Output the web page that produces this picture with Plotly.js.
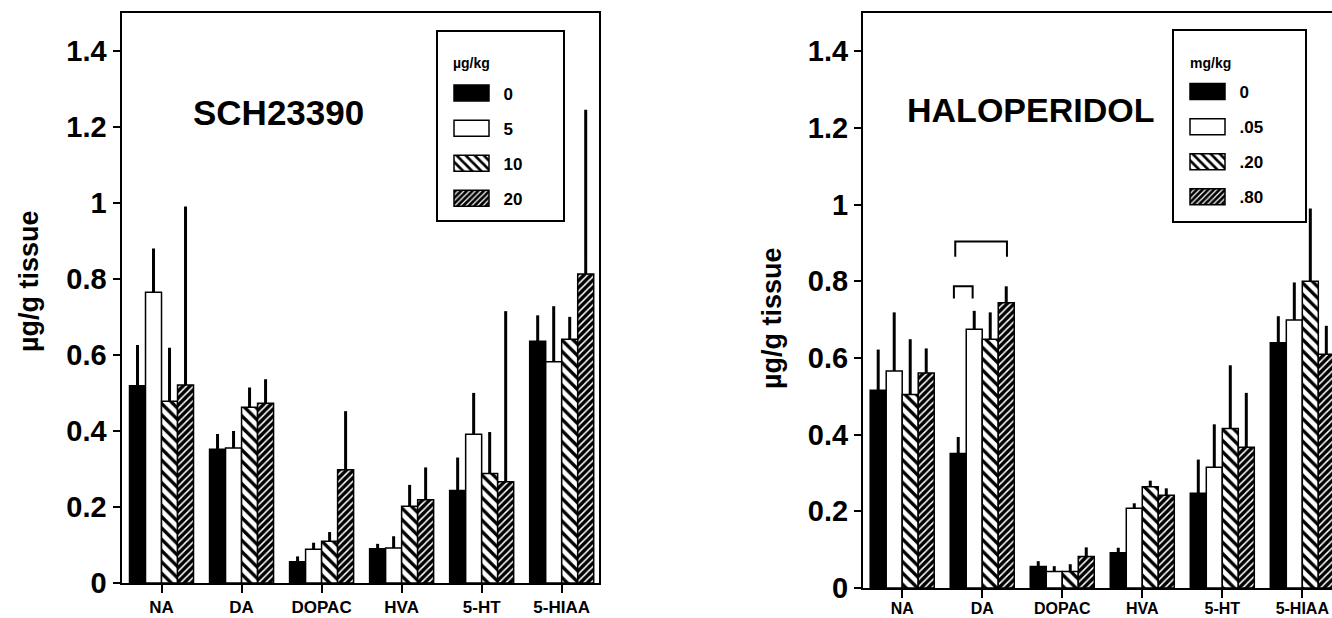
<!DOCTYPE html>
<html>
<head>
<meta charset="utf-8">
<script src="https://cdn.plot.ly/plotly-3.0.1.min.js"></script>
<style>
html,body{margin:0;padding:0;background:#ffffff;}
#chart{width:1332px;height:618px;}
</style>
</head>
<body>
<div id="chart"></div>
<script>
// ---------- data ----------
const categories = ['NA', 'DA', 'DOPAC', 'HVA', '5-HT', '5-HIAA'];

// SCH23390 (µg/kg)
const schDoseLabels = ['0', '5', '10', '20'];
const sch0     = [0.519, 0.352, 0.056, 0.090, 0.243, 0.636];
const sch0Err  = [0.107, 0.040, 0.014, 0.013, 0.087, 0.068];
const sch5     = [0.765, 0.355, 0.089, 0.092, 0.391, 0.582];
const sch5Err  = [0.115, 0.045, 0.017, 0.031, 0.109, 0.146];
const sch10    = [0.478, 0.462, 0.110, 0.202, 0.288, 0.641];
const sch10Err = [0.141, 0.052, 0.024, 0.056, 0.109, 0.059];
const sch20    = [0.521, 0.473, 0.298, 0.219, 0.266, 0.813];
const sch20Err = [0.469, 0.063, 0.154, 0.085, 0.449, 0.432];

// HALOPERIDOL (mg/kg)
const halDoseLabels = ['0', '.05', '.20', '.80'];
const hal0     = [0.516, 0.351, 0.056, 0.092, 0.247, 0.640];
const hal0Err  = [0.106, 0.043, 0.014, 0.013, 0.088, 0.069];
const hal05    = [0.566, 0.675, 0.043, 0.208, 0.315, 0.699];
const hal05Err = [0.153, 0.048, 0.014, 0.013, 0.112, 0.098];
const hal20    = [0.505, 0.649, 0.043, 0.264, 0.416, 0.800];
const hal20Err = [0.144, 0.070, 0.019, 0.016, 0.165, 0.190];
const hal80    = [0.561, 0.744, 0.082, 0.242, 0.367, 0.610];
const hal80Err = [0.064, 0.043, 0.024, 0.018, 0.142, 0.074];

// significance brackets over DA (haloperidol panel), in axis units
const bracketStart = [0.646, 0.663];
const bracketEnd   = [0.880, 1.309];
const bracketTop   = [0.787, 0.904];
const bracketFoot  = [0.755, 0.864];

// ---------- styles ----------
const W = 1332, H = 618;
const px = v => v / W;
const py = v => 1 - v / H;
const FONT = 'Liberation Sans, Arial, Helvetica, sans-serif';

const fills = [
  {color: 'black'},
  {color: 'white'},
  {color: 'white', pattern: {shape: '\\', bgcolor: 'white', fgcolor: 'black', size: 8, solidity: 0.42}},
  {color: 'black', pattern: {shape: '/', bgcolor: 'black', fgcolor: 'white', size: 5, solidity: 0.3}}
];

function barTrace(name, y, err, k, xa, ya, legendId, grp) {
  const f = fills[k];
  const marker = {color: f.color, line: {color: 'black', width: 1.5}};
  if (f.pattern) marker.pattern = f.pattern;
  return {
    type: 'bar', name: name, x: categories, y: y,
    xaxis: xa, yaxis: ya, legend: legendId, legendgroup: grp,
    marker: marker,
    error_y: {type: 'data', symmetric: false, array: err, arrayminus: err.map(() => 0),
              color: 'black', thickness: 3, width: 0},
    hoverinfo: 'skip'
  };
}

const traces = [
  barTrace(schDoseLabels[0], sch0, sch0Err, 0, 'x', 'y', 'legend', 's0'),
  barTrace(schDoseLabels[1], sch5, sch5Err, 1, 'x', 'y', 'legend', 's1'),
  barTrace(schDoseLabels[2], sch10, sch10Err, 2, 'x', 'y', 'legend', 's2'),
  barTrace(schDoseLabels[3], sch20, sch20Err, 3, 'x', 'y', 'legend', 's3'),
  barTrace(halDoseLabels[0], hal0, hal0Err, 0, 'x2', 'y2', 'legend2', 'h0'),
  barTrace(halDoseLabels[1], hal05, hal05Err, 1, 'x2', 'y2', 'legend2', 'h1'),
  barTrace(halDoseLabels[2], hal20, hal20Err, 2, 'x2', 'y2', 'legend2', 'h2'),
  barTrace(halDoseLabels[3], hal80, hal80Err, 3, 'x2', 'y2', 'legend2', 'h3')
];

function xAxis(domain, range, anchor, fsize, standoff) {
  return {
    domain: domain, range: range, type: 'category', anchor: anchor,
    showline: true, linewidth: 2, linecolor: 'black', mirror: true,
    ticks: 'outside', ticklen: 8, tickwidth: 2, tickcolor: 'black',
    tickfont: {family: FONT, size: fsize, color: 'black', weight: 'bold'},
    ticklabelstandoff: standoff,
    tickangle: 0, showgrid: false, zeroline: false, fixedrange: true
  };
}
function yAxis(domain, anchor, mirror) {
  return {
    domain: domain, range: [0, 1.5], anchor: anchor,
    tickmode: 'linear', tick0: 0, dtick: 0.2,
    showline: true, linewidth: 2, linecolor: 'black', mirror: mirror,
    ticks: 'outside', ticklen: 7, tickwidth: 2, tickcolor: 'black',
    tickfont: {family: FONT, size: 29, color: 'black', weight: 'bold'},
    showgrid: false, zeroline: false, fixedrange: true
  };
}
function legendBox(x0, x1, y0, y1) {
  return {type: 'rect', xref: 'paper', yref: 'paper', x0: px(x0), x1: px(x1), y0: py(y1), y1: py(y0),
          line: {color: 'black', width: 2}, fillcolor: 'rgba(0,0,0,0)', layer: 'above'};
}
function legendCfg(x, y) {
  return {
    x: px(x), y: py(y), xanchor: 'left', yanchor: 'top',
    bgcolor: 'rgba(0,0,0,0)', borderwidth: 0,
    font: {family: FONT, size: 17, color: 'black', weight: 'bold'},
    itemwidth: 50, tracegroupgap: 10, traceorder: 'grouped'
  };
}
function textNote(text, x, y, size, xanchor, angle) {
  return {text: text, xref: 'paper', yref: 'paper', x: px(x), y: py(y), xanchor: xanchor, yanchor: 'middle',
          textangle: angle || 0, showarrow: false,
          font: {family: FONT, size: size, color: 'black', weight: 'bold'}};
}

const bracketShapes = bracketStart.map((s, i) => ({
  type: 'path', xref: 'x2', yref: 'y2',
  path: 'M' + s + ',' + bracketFoot[i] + ' L' + s + ',' + bracketTop[i] +
        ' L' + bracketEnd[i] + ',' + bracketTop[i] + ' L' + bracketEnd[i] + ',' + bracketFoot[i],
  line: {color: 'black', width: 2}
}));

const layout = {
  width: W, height: H,
  margin: {l: 0, r: 0, t: 0, b: 0},
  paper_bgcolor: 'white', plot_bgcolor: 'white',
  font: {family: FONT, color: 'black', weight: 'bold'},
  barmode: 'group', bargap: 0.2, bargroupgap: 0,
  xaxis: xAxis([px(121.5), px(599)], [-0.5, 5.466], 'y', 17, 0),
  yaxis: yAxis([py(583), py(12.7)], 'x', true),
  xaxis2: xAxis([px(863), 1], [-0.49, 5.371], 'y2', 16, -3),
  yaxis2: yAxis([py(588), py(13)], 'x2', false),
  legend: legendCfg(443.5, 75.5),
  legend2: legendCfg(1179.5, 74),
  shapes: [legendBox(437, 564, 31, 221), legendBox(1173, 1306, 30, 222)].concat(bracketShapes),
  annotations: [
    textNote('SCH23390', 278, 112, 35, 'center'),
    textNote('HALOPERIDOL', 1030.5, 110, 34, 'center'),
    textNote('µg/g tissue', 29, 281, 27, 'center', -90),
    textNote('µg/g tissue', 772, 318, 27, 'center', -90),
    textNote('µg/kg', 451, 63, 14, 'left'),
    textNote('mg/kg', 1188, 63, 14, 'left')
  ]
};

Plotly.newPlot('chart', traces, layout, {staticPlot: true, displayModeBar: false}).then(function (gd) {
  // widen legend swatches to match the original wide rectangles
  gd.querySelectorAll('.legendpoints path').forEach(function (p) {
    if (p.classList.contains('legendbar') || (p.getAttribute('d') || '').indexOf('M6,6H-6V-6H6Z') === 0) {
      p.setAttribute('d', 'M15.5,8H-19.5V-8H15.5Z');
    }
  });
});
</script>
</body>
</html>
